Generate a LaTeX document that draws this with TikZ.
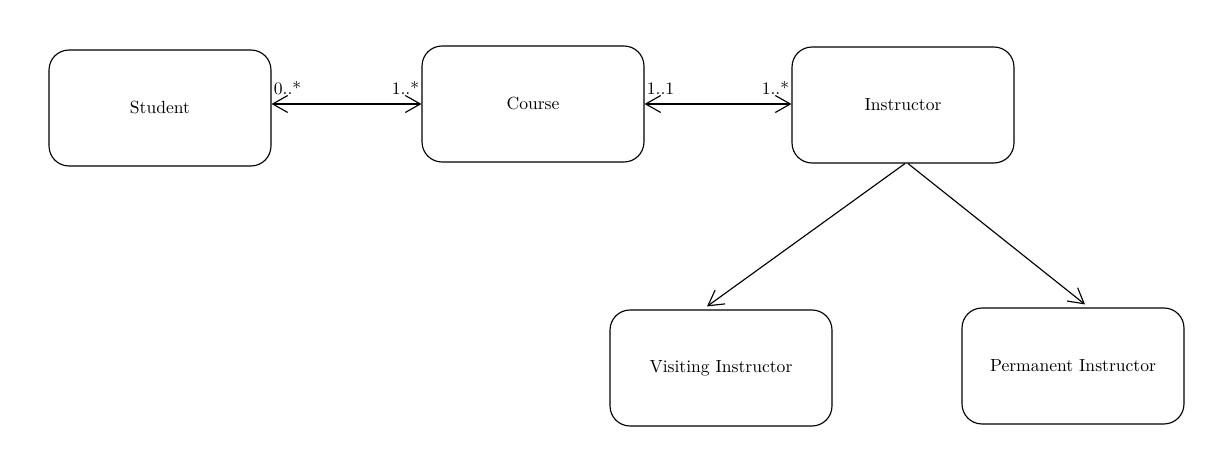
\documentclass[tikz,border=0pt]{standalone}
\usetikzlibrary{arrows.meta}

\begin{document}
\begin{tikzpicture}[x=0.02cm,y=-0.02cm,line width=0.65pt,
  classbox/.style={draw,rounded corners=0.4cm,minimum width=4.44cm,
    minimum height=2.32cm,inner sep=0pt},
  assoc/.style={{Straight Barb[length=0.3cm,width=0.34cm]}-{Straight Barb[length=0.3cm,width=0.34cm]}},
  inherit/.style={-{Straight Barb[length=0.3cm,width=0.34cm]}},
  mult/.style={inner sep=1pt,yshift=4pt}]
\useasboundingbox (0,0) rectangle (1208,462);
\node[classbox] (student) at (160,108) {Student};
\node[classbox] (course) at (533,104) {Course};
\node[classbox] (instructor) at (903,105) {Instructor};
\node[classbox] (visiting) at (721,368) {Visiting Instructor};
\node[classbox] (permanent) at (1073,366) {Permanent Instructor};
\draw[assoc] (student.east |- course.west) -- (course.west)
  node[mult,above right,at start] {0..*}
  node[mult,above left,at end] {1..*};
\draw[assoc] (course.east) -- (instructor.west |- course.east)
  node[mult,above right,at start] {1..1}
  node[mult,above left,at end] {1..*};
\draw[inherit] ([xshift=0.04cm]instructor.south) -- ([xshift=-0.28cm,yshift=0.06cm]visiting.north);
\draw[inherit] ([xshift=0.1cm]instructor.south) -- ([xshift=0.24cm,yshift=0.06cm]permanent.north);
\end{tikzpicture}
\end{document}
